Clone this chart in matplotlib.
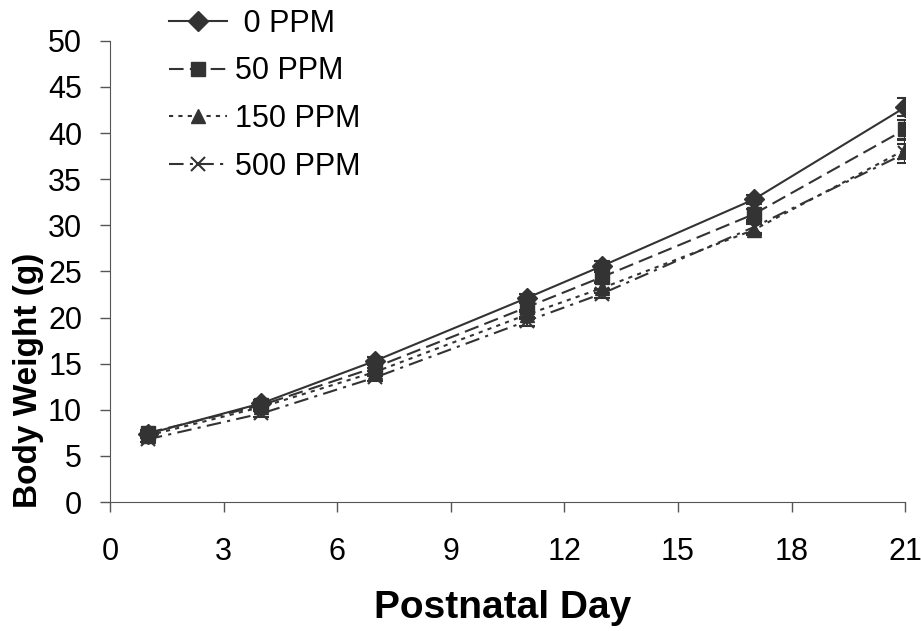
import matplotlib
matplotlib.use("agg")
import matplotlib.pyplot as plt

plt.rcParams['font.family'] = ['Liberation Sans', 'DejaVu Sans']

days = [1, 4, 7, 11, 13, 17, 21]
labels = [' 0 PPM', '50 PPM', '150 PPM', '500 PPM']
w0 = [7.4, 10.7, 15.3, 22.1, 25.6, 32.8, 42.8]
w50 = [7.5, 10.5, 14.6, 21.1, 24.4, 31.2, 40.4]
w150 = [7.2, 10.3, 14.1, 20.3, 23.2, 29.5, 38.2]
w500 = [6.8, 9.6, 13.5, 19.6, 22.6, 29.8, 37.8]
e0 = [0.3, 0.4, 0.4, 0.5, 0.5, 0.5, 1.0]
e50 = [0.3, 0.4, 0.4, 0.5, 0.5, 0.6, 1.0]
e150 = [0.3, 0.4, 0.4, 0.5, 0.5, 0.6, 1.0]
e500 = [0.3, 0.4, 0.4, 0.5, 0.5, 0.6, 1.0]

col = '#333333'
styles = ['-', (0, (7, 3)), (0, (2, 2.5)), (0, (7, 3, 1.5, 3))]
markers = ['D', 's', '^', 'x']

fig = plt.figure(figsize=(9.21, 6.31), dpi=100)
ax = fig.add_axes([0.1194, 0.2044, 0.8635, 0.731])

series = [(w0, e0), (w50, e50), (w150, e150), (w500, e500)]
handles = []
for i, (w, e) in enumerate(series):
    ax.errorbar(days, w, yerr=e, fmt='none', ecolor=col, capsize=6,
                elinewidth=1.5, capthick=1.5)
    ln, = ax.plot(days, w, color=col, linestyle=styles[i], linewidth=1.5,
                  marker=markers[i], markersize=10,
                  markeredgewidth=1.5 if markers[i] == 'x' else 1,
                  label=labels[i])
    handles.append(ln)

ax.set_xlim(0, 21)
ax.set_ylim(0, 50)
ax.set_xticks(range(0, 22, 3))
ax.set_yticks(range(0, 51, 5))
ax.tick_params(labelsize=22, length=7, width=1, color='#555555', direction='out')
ax.tick_params(axis='y', pad=13)
ax.tick_params(axis='x', pad=18)
for s in ['top', 'right']:
    ax.spines[s].set_visible(False)
for s in ['left', 'bottom']:
    ax.spines[s].set_color('#555555')

ax.set_xlabel('Postnatal Day', fontsize=28, fontweight='bold', va='top')
ax.xaxis.set_label_coords(0.494, -0.19)
ax.set_ylabel('Body Weight (g)', fontsize=24, fontweight='bold')
ax.yaxis.set_label_coords(-0.083, 0.263)

fig.legend(handles, labels, loc='upper left', bbox_to_anchor=(0.154, 1.03), frameon=False,
           fontsize=22, handlelength=1.9, handletextpad=0.25, labelspacing=0.58)

fig.savefig('out.png', dpi=100)
